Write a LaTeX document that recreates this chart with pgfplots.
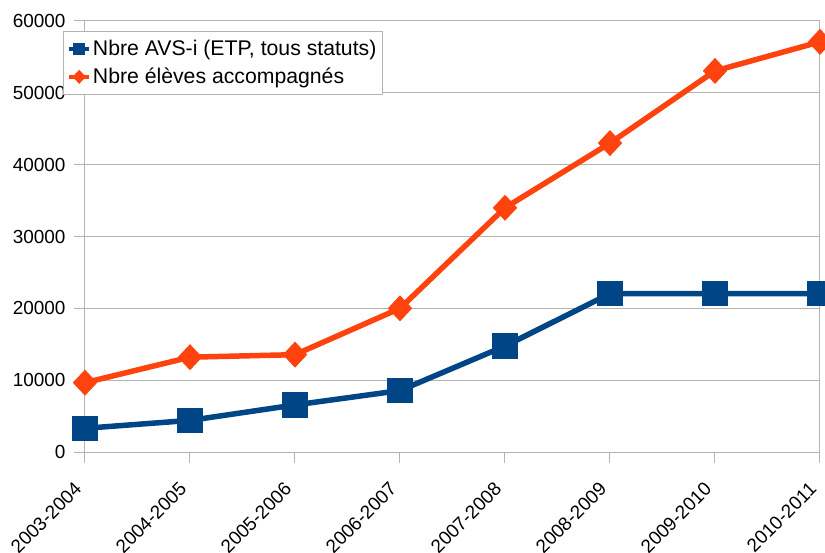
\documentclass[border=0pt]{standalone}
\usepackage{fontspec}
\setmainfont{Liberation Sans}
\usepackage{pgfplots}
\pgfplotsset{compat=1.18}
\definecolor{cblue}{HTML}{004586}
\definecolor{corange}{HTML}{FF420E}
\definecolor{gridc}{HTML}{B3B3B3}
\begin{document}
\begin{tikzpicture}
\begin{axis}[
  name=ax,
  scale only axis, width=735bp, height=431bp,
  xmin=0, xmax=7, ymin=0, ymax=60000,
  xtick={0,...,7},
  xticklabels={2003-2004,2004-2005,2005-2006,2006-2007,2007-2008,2008-2009,2009-2010,2010-2011},
  ytick={0,10000,20000,30000,40000,50000,60000},
  scaled y ticks=false,
  /pgf/number format/assume math mode=true,
  /pgf/number format/1000 sep={},
  ymajorgrids,
  grid style={gridc, line width=1bp},
  axis line style={gridc, line width=1bp},
  tick style={gridc, line width=1bp},
  tick align=outside, major tick length=11bp,
  xtick pos=bottom, ytick pos=left,
  font=\fontsize{19}{23}\selectfont,
  xticklabel style={rotate=45, anchor=north east, xshift=-17.5bp, yshift=-1bp},
  yticklabel style={xshift=-5bp},
  legend style={at={(axis description cs:-0.030,0.977)}, anchor=north west, draw=gridc, line width=1bp,
    font=\fontsize{21.3}{25}\selectfont, inner xsep=4bp, inner ysep=7bp, row sep=7bp},
  legend cell align=left,
  legend image code/.code={\draw[mark repeat=2,mark phase=2,#1,line width=3.5bp,mark size=4.5bp] plot coordinates {(0bp,0bp)(10bp,0bp)(20bp,0bp)};},
]
\addplot[cblue, line width=5.5bp, mark=square*, mark size=10bp] coordinates {
 (0,3300) (1,4400) (2,6550) (3,8550) (4,14750) (5,22050) (6,22050) (7,22050)};
\addlegendentry{Nbre AVS-i (ETP, tous statuts)}
\addplot[corange, line width=5.5bp, mark=diamond*, mark size=9bp, mark options={xscale=1.25}] coordinates {
 (0,9650) (1,13200) (2,13550) (3,20000) (4,34000) (5,43000) (6,53050) (7,57100)};
\addlegendentry{Nbre élèves accompagnés}
\end{axis}
\pgfresetboundingbox
\path[use as bounding box] (ax.south west) ++(-85bp,-101bp) rectangle ++(825bp,553bp);
\end{tikzpicture}
\end{document}
